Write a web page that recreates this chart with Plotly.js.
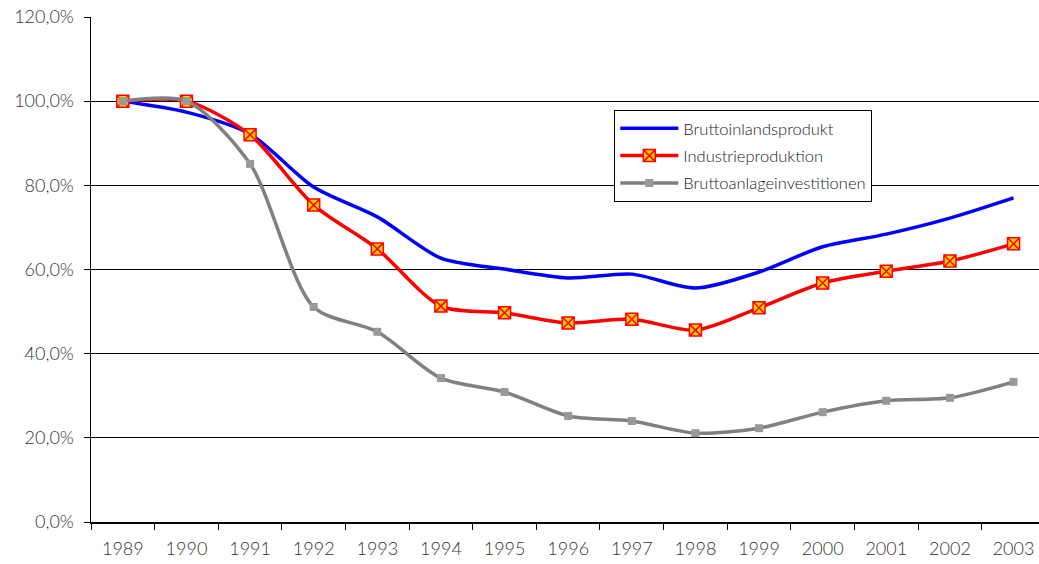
<!DOCTYPE html>
<html><head><meta charset="utf-8">
<script src="https://cdn.plot.ly/plotly-3.0.1.min.js"></script>
<style>body{margin:0}#c{width:1039px;height:564px}</style>
</head><body><div id="c"></div>
<script>
const years = ['1989','1990','1991','1992','1993','1994','1995','1996','1997','1998','1999','2000','2001','2002','2003'];
const bip = [100,97.4,92.2,79.6,72.5,62.7,60.1,58.0,58.9,55.6,59.4,65.4,68.4,72.2,77.0];
const industrie = [100,100,92.0,75.3,64.9,51.3,49.7,47.3,48.2,45.6,50.9,56.8,59.6,62.0,66.1];
const anlage = [100,100,85.1,51.1,45.2,34.2,30.9,25.2,24.0,21.1,22.3,26.1,28.8,29.5,33.3];
const names = ['Bruttoinlandsprodukt','Industrieproduktion','Bruttoanlageinvestitionen'];

const traces = [
  {x: years, y: bip, name: names[0], legendgroup:'a', type:'scatter', mode:'lines',
   line:{color:'#0000FF', width:3.5, shape:'spline', smoothing:0.8}},
  {x: years, y: industrie, name: names[1], legendgroup:'b', type:'scatter', mode:'lines+markers',
   line:{color:'#FF0000', width:3.5, shape:'spline', smoothing:0.8},
   marker:{symbol:'square-x', size:12, color:'#FFCC00', line:{color:'#FF0000', width:1.5}}},
  {x: years, y: anlage, name: names[2], legendgroup:'c', type:'scatter', mode:'lines+markers',
   line:{color:'#808080', width:3.5, shape:'spline', smoothing:0.8},
   marker:{symbol:'square', size:8, color:'#999999', line:{width:0}}}
];
const layout = {
  width:1039, height:564,
  margin:{l:91, r:0, t:17, b:42},
  paper_bgcolor:'#fff', plot_bgcolor:'#fff',
  separators:',.',
  font:{family:'Lato, "DejaVu Sans", sans-serif', color:'#333333', size:18, weight:300},
  showlegend:true,
  legend:{x:0.552, y:0.816, xanchor:'left', yanchor:'top', bgcolor:'#fff',
    bordercolor:'#000', borderwidth:1, font:{size:16.5, color:'#222222', weight:300},
    traceorder:'grouped', tracegroupgap:3, itemwidth:58},
  xaxis:{type:'category', range:[-0.5,14.4], tickson:'boundaries', ticks:'outside',
    ticklen:6, tickcolor:'#000', ticklabelstandoff:10, showgrid:false, showline:true, linecolor:'#000',
    linewidth:1.5, zeroline:false, fixedrange:true},
  yaxis:{range:[0,120], dtick:20, tickformat:'.1f', ticksuffix:'%', ticks:'outside',
    ticklen:6, tickcolor:'#000', ticklabelstandoff:6, showgrid:true, gridcolor:'#000', gridwidth:1,
    showline:true, linecolor:'#000', linewidth:1.5, zeroline:false}
};
Plotly.newPlot('c', traces, layout, {displayModeBar:false, staticPlot:true});
</script></body></html>
